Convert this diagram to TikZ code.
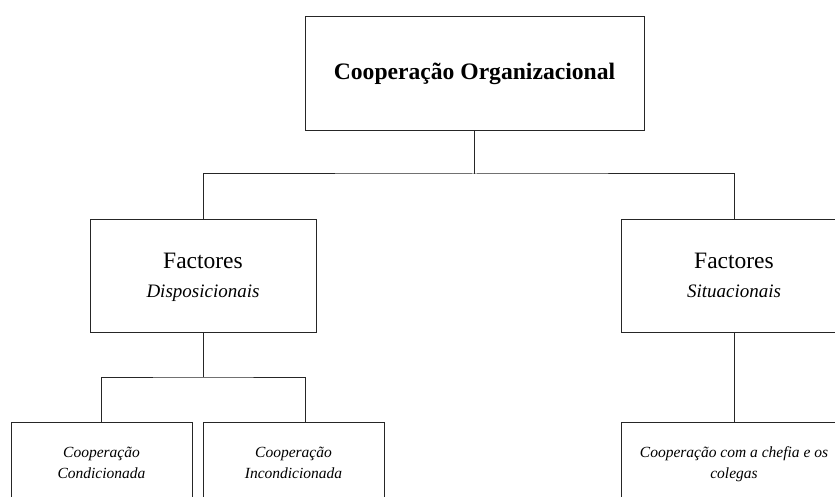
\documentclass[tikz,border=0pt]{standalone}
\usepackage{fontspec}
\setmainfont{Liberation Serif}
\begin{document}
\begin{tikzpicture}[x=1pt,y=-1pt,
  box/.style={draw=black!85,line width=1pt,rectangle,inner sep=0pt,align=center},
  link/.style={draw=black!85,line width=1pt}]
\useasboundingbox (0,0) rectangle (835,497);
\clip (0,0) rectangle (835,497);
\fill[white] (0,0) rectangle (835,497);

% top level
\node[box,minimum width=339pt,minimum height=114pt,font=\fontsize{23.6}{27}\selectfont\bfseries]
  (top) at (474.5,74) {\strut Cooperação Organizacional};

% second level (first line padded so the pair sits slightly low)
\node[box,minimum width=226pt,minimum height=112pt,font=\fontsize{23.5}{29}\selectfont]
  (midL) at (203,276) {\rule{0pt}{23pt}Factores\\\fontsize{19}{29}\selectfont\textit{Disposicionais}\strut};
\node[box,minimum width=226pt,minimum height=112pt,font=\fontsize{23.5}{29}\selectfont]
  (midR) at (734,276) {\rule{0pt}{23pt}Factores\\\fontsize{19}{29}\selectfont\textit{Situacionais}\strut};

% third level
\node[box,minimum width=181pt,minimum height=110pt,font=\fontsize{15.5}{21}\selectfont\itshape]
  (botL) at (101.5,477) {Cooperação\\Condicionada\strut\\[8pt]};
\node[box,minimum width=181pt,minimum height=110pt,font=\fontsize{15.5}{21}\selectfont\itshape]
  (botM) at (293.5,477) {Cooperação\\Incondicionada\strut\\[8pt]};
\node[box,minimum width=226pt,minimum height=110pt,font=\fontsize{15.5}{21}\selectfont\itshape]
  (botR) at (734,477) {Cooperação com a chefia e os\\colegas\strut\\[8pt]};

% junctions
\coordinate (j1) at (474.5,174);
\coordinate (j2) at (203,377);

\draw[link] (top.south) -- (j1);
\draw[link] (midL.north) |- (j1) -| (midR.north);
\draw[link] (midL.south) -- (j2);
\draw[link] (botL.north) |- (j2) -| ([xshift=11.5pt]botM.north);
\draw[link] (midR.south) -- (botR.north);
\end{tikzpicture}
\end{document}
